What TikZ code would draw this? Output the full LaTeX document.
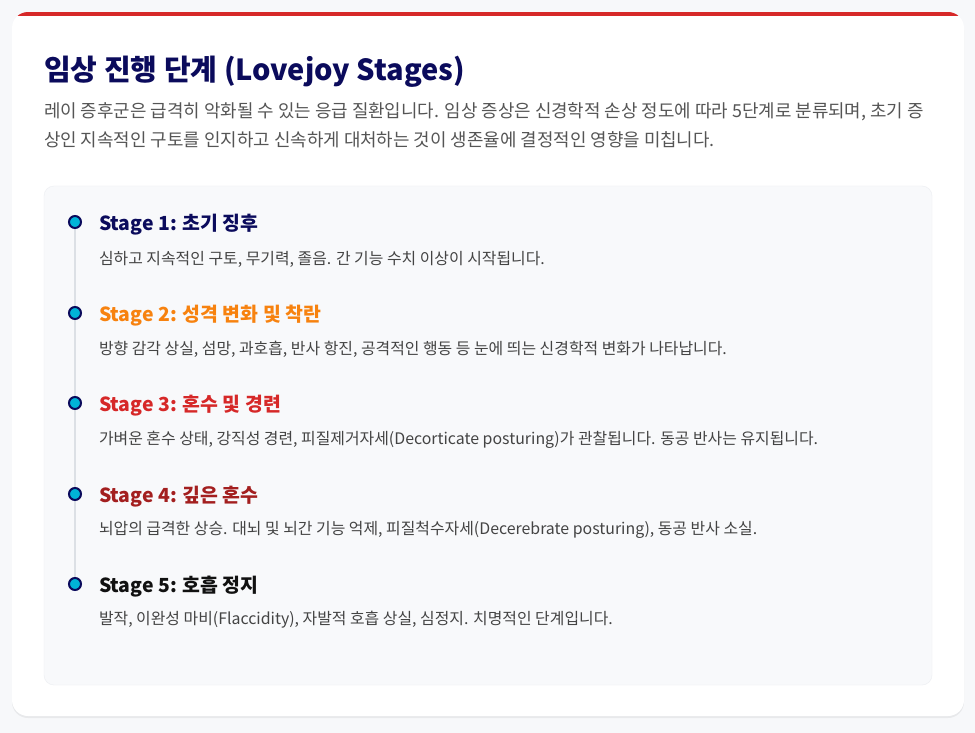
\documentclass[tikz,border=0pt]{standalone}
\usepackage{fontspec}
\setmainfont{Noto Sans CJK KR}
\usetikzlibrary{shadows}

\definecolor{pagebg}{HTML}{F7F8FA}
\definecolor{topred}{HTML}{D62828}
\definecolor{navy}{HTML}{0B0B5C}
\definecolor{bodygray}{HTML}{555555}
\definecolor{descgray}{HTML}{444444}
\definecolor{panelbg}{HTML}{F8F9FB}
\definecolor{panelline}{HTML}{ECEEF2}
\definecolor{railgray}{HTML}{DCE0E5}
\definecolor{dotcyan}{HTML}{00B4D8}
\definecolor{stageorange}{HTML}{F7820F}
\definecolor{stagered}{HTML}{D62828}
\definecolor{stagebrown}{HTML}{A31F1F}
\definecolor{stageblack}{HTML}{111111}

\begin{document}
\begin{tikzpicture}[x=1pt, y=-1pt,
  every node/.style = {inner sep=0pt, outer sep=0pt},
  dot/.style = {circle, minimum size=12pt, fill=dotcyan, draw=navy, line width=2pt},
  introline/.style = {anchor=base west, text=bodygray, font=\fontsize{17.9}{21}\selectfont},
  stagetitle/.style = {anchor=base west, font=\fontsize{19.4}{23}\selectfont\bfseries},
  stagedesc/.style = {anchor=base west, font=\fontsize{15.9}{19}\selectfont, text=descgray}]
  \useasboundingbox[fill=pagebg] (0,0) rectangle (975,733);

  % card
  \path[fill=white, rounded corners=16pt,
    drop shadow={opacity=0.12, shadow xshift=0pt, shadow yshift=-2pt}]
    (12,12) rectangle (964,716);
  \begin{scope}
    \clip[rounded corners=16pt] (12,12) rectangle (964,716);
    \fill[topred] (12,12) rectangle (964,16);
  \end{scope}

  % heading
  \node[anchor=base west, text=navy, font=\fontsize{29}{34}\selectfont\bfseries]
    (title) at (44,81) {임상 진행 단계 (Lovejoy Stages)};
  \node[introline] (intro1) at (44,118)
    {레이 증후군은 급격히 악화될 수 있는 응급 질환입니다. 임상 증상은 신경학적 손상 정도에 따라 5단계로 분류되며, 초기 증};
  \node[introline] (intro2) at (44,147)
    {상인 지속적인 구토를 인지하고 신속하게 대처하는 것이 생존율에 결정적인 영향을 미칩니다.};

  % panel
  \path[fill=panelbg, draw=panelline, rounded corners=10pt] (44,186) rectangle (932,685);

  % timeline
  \coordinate (t1) at (75,222);
  \coordinate (t2) at (75,313);
  \coordinate (t3) at (75,403);
  \coordinate (t4) at (75,494);
  \coordinate (t5) at (75,584);
  \draw[railgray, line width=2pt] (t1) -- (t5);
  \node[dot] (dot1) at (t1) {};
  \node[dot] (dot2) at (t2) {};
  \node[dot] (dot3) at (t3) {};
  \node[dot] (dot4) at (t4) {};
  \node[dot] (dot5) at (t5) {};

  % stages
  \node[stagetitle, text=navy] (s1) at (99,230) {Stage 1: 초기 징후};
  \node[stagedesc] (d1) at (99,264) {심하고 지속적인 구토, 무기력, 졸음. 간 기능 수치 이상이 시작됩니다.};
  \node[stagetitle, text=stageorange] (s2) at (99,321) {Stage 2: 성격 변화 및 착란};
  \node[stagedesc] (d2) at (99,354) {방향 감각 상실, 섬망, 과호흡, 반사 항진, 공격적인 행동 등 눈에 띄는 신경학적 변화가 나타납니다.};
  \node[stagetitle, text=stagered] (s3) at (99,411) {Stage 3: 혼수 및 경련};
  \node[stagedesc] (d3) at (99,444) {가벼운 혼수 상태, 강직성 경련, 피질제거자세(Decorticate posturing)가 관찰됩니다. 동공 반사는 유지됩니다.};
  \node[stagetitle, text=stagebrown] (s4) at (99,502) {Stage 4: 깊은 혼수};
  \node[stagedesc] (d4) at (99,534) {뇌압의 급격한 상승. 대뇌 및 뇌간 기능 억제, 피질척수자세(Decerebrate posturing), 동공 반사 소실.};
  \node[stagetitle, text=stageblack] (s5) at (99,592) {Stage 5: 호흡 정지};
  \node[stagedesc] (d5) at (99,624) {발작, 이완성 마비(Flaccidity), 자발적 호흡 상실, 심정지. 치명적인 단계입니다.};
\end{tikzpicture}
\end{document}
